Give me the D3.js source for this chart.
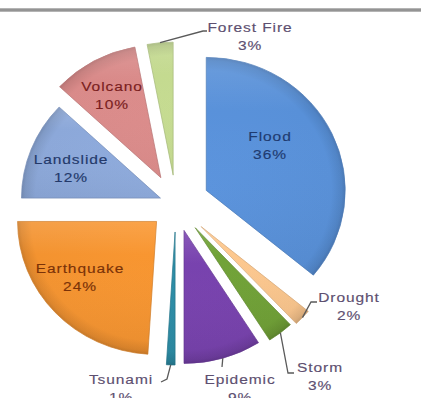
<!DOCTYPE html>
<html>
<head>
<meta charset="utf-8">
<script src="https://cdn.jsdelivr.net/npm/d3@7"></script>
<style>
  html, body { margin: 0; padding: 0; background: #fff; }
  svg { display: block; font-family: "Liberation Sans", Arial, sans-serif; }
</style>
</head>
<body>
<svg id="chart" width="421" height="398"></svg>
<script>
// Share of natural disasters by type (percent), clockwise from 12 o'clock
const categories = ["Flood", "Drought", "Storm", "Epidemic", "Tsunami", "Earthquake", "Landslide", "Volcano", "Forest Fire"];
const shares = [36, 2, 3, 9, 1, 24, 12, 10, 3];

// Slice fills
const sliceColors = ["#5890d8", "#f8c48c", "#6f9f36", "#7641ab", "#2b8aa3", "#f39330", "#8ca8d9", "#d98a89", "#c3d98f"];

// Per-slice explosion distance (px) along each slice's bisector
const explode = [32, 33, 30, 27.5, 28, 25.5, 16, 30, 29];

// Label placement: inside labels sit on the slice, outside labels get a leader line
const labelLayout = [
  { x: 270, y: 136, inside: true,  color: "#1f3b70" },
  { x: 349, y: 297, inside: false, leader: [[311, 302], [317, 302]] },
  { x: 320, y: 367, inside: false, leader: [[288, 373], [294, 373]] },
  { x: 240, y: 379, inside: false, leader: [[222, 367]] },
  { x: 121, y: 379, inside: false, leader: [[167, 379], [161, 382]] },
  { x: 80,  y: 268, inside: true,  color: "#7a3208" },
  { x: 71,  y: 159, inside: true,  color: "#23396a" },
  { x: 112, y: 86,  inside: true,  color: "#7a1e1e" },
  { x: 250, y: 27,  inside: false, leader: [[203, 31], [207, 31]] }
];

const W = 421, H = 398;
const cx = 176, cy = 204, R = 133, sx = 1.045;
const lineGap = 18;

const svg = d3.select("#chart");
const defs = svg.append("defs");

// Top rule
svg.append("rect").attr("x", 0).attr("y", 8).attr("width", W).attr("height", 4).attr("fill", "#b4b4b4");
svg.append("line").attr("x1", 0).attr("x2", W).attr("y1", 10).attr("y2", 10)
  .attr("stroke", "#8a8a8a").attr("stroke-width", 1.5);

const pie = d3.pie().sort(null).value(d => d)(shares);
const arc = d3.arc().innerRadius(0).outerRadius(R);

// Shading: darker rim plus a faint top highlight
const gloss = defs.append("linearGradient").attr("id", "gloss")
  .attr("x1", 0).attr("y1", 0).attr("x2", 0).attr("y2", 1);
gloss.append("stop").attr("offset", 0).attr("stop-color", "#fff").attr("stop-opacity", 0.12);
gloss.append("stop").attr("offset", 0.25).attr("stop-color", "#fff").attr("stop-opacity", 0);
gloss.append("stop").attr("offset", 1).attr("stop-color", "#000").attr("stop-opacity", 0.04);

pie.forEach((p, i) => {
  const base = d3.color(sliceColors[i]);
  const g = defs.append("radialGradient").attr("id", "rim" + i)
    .attr("gradientUnits", "userSpaceOnUse").attr("cx", 0).attr("cy", 0).attr("r", R);
  g.append("stop").attr("offset", 0).attr("stop-color", base.brighter(0.08));
  g.append("stop").attr("offset", 0.9).attr("stop-color", base);
  g.append("stop").attr("offset", 0.975).attr("stop-color", base.darker(0.25));
  g.append("stop").attr("offset", 1).attr("stop-color", base.darker(0.5));
});

function sliceOrigin(p, i) {
  const a = (p.startAngle + p.endAngle) / 2;
  return [cx + sx * explode[i] * Math.sin(a), cy - explode[i] * Math.cos(a)];
}

const slices = svg.append("g").selectAll("g.slice").data(pie).join("g")
  .attr("class", "slice")
  .attr("transform", (p, i) => {
    const [ox, oy] = sliceOrigin(p, i);
    return `translate(${ox},${oy}) scale(${sx},1)`;
  });

slices.append("path")
  .attr("d", arc)
  .attr("fill", (p, i) => `url(#rim${i})`)
  .attr("stroke", (p, i) => d3.color(sliceColors[i]).darker(0.45))
  .attr("stroke-width", 0.7)
  .attr("stroke-linejoin", "round");

slices.append("path")
  .attr("d", arc)
  .attr("fill", "url(#gloss)");

// Leader lines from the outer edge of each small slice to its label
const labelsG = svg.append("g");
pie.forEach((p, i) => {
  const L = labelLayout[i];
  if (L.inside) return;
  const a = (p.startAngle + p.endAngle) / 2;
  const [ox, oy] = sliceOrigin(p, i);
  const start = [ox + sx * R * Math.sin(a), oy - R * Math.cos(a)];
  labelsG.append("path")
    .attr("d", d3.line()([start, ...L.leader]))
    .attr("fill", "none")
    .attr("stroke", "#5a5a5a")
    .attr("stroke-width", 1.3);
});

// Category and percent labels
pie.forEach((p, i) => {
  const L = labelLayout[i];
  const color = L.inside ? L.color : "#5d4f70";
  [categories[i], shares[i] + "%"].forEach((txt, k) => {
    labelsG.append("text")
      .attr("transform", `translate(${L.x},${L.y + k * lineGap}) scale(1.15,1)`)
      .attr("text-anchor", "middle")
      .attr("dominant-baseline", "central")
      .attr("font-size", 13.5)
      .attr("letter-spacing", 0.8)
      .attr("fill", color)
      .attr("stroke", color)
      .attr("stroke-width", 0.15)
      .text(txt);
  });
});
</script>
</body>
</html>
